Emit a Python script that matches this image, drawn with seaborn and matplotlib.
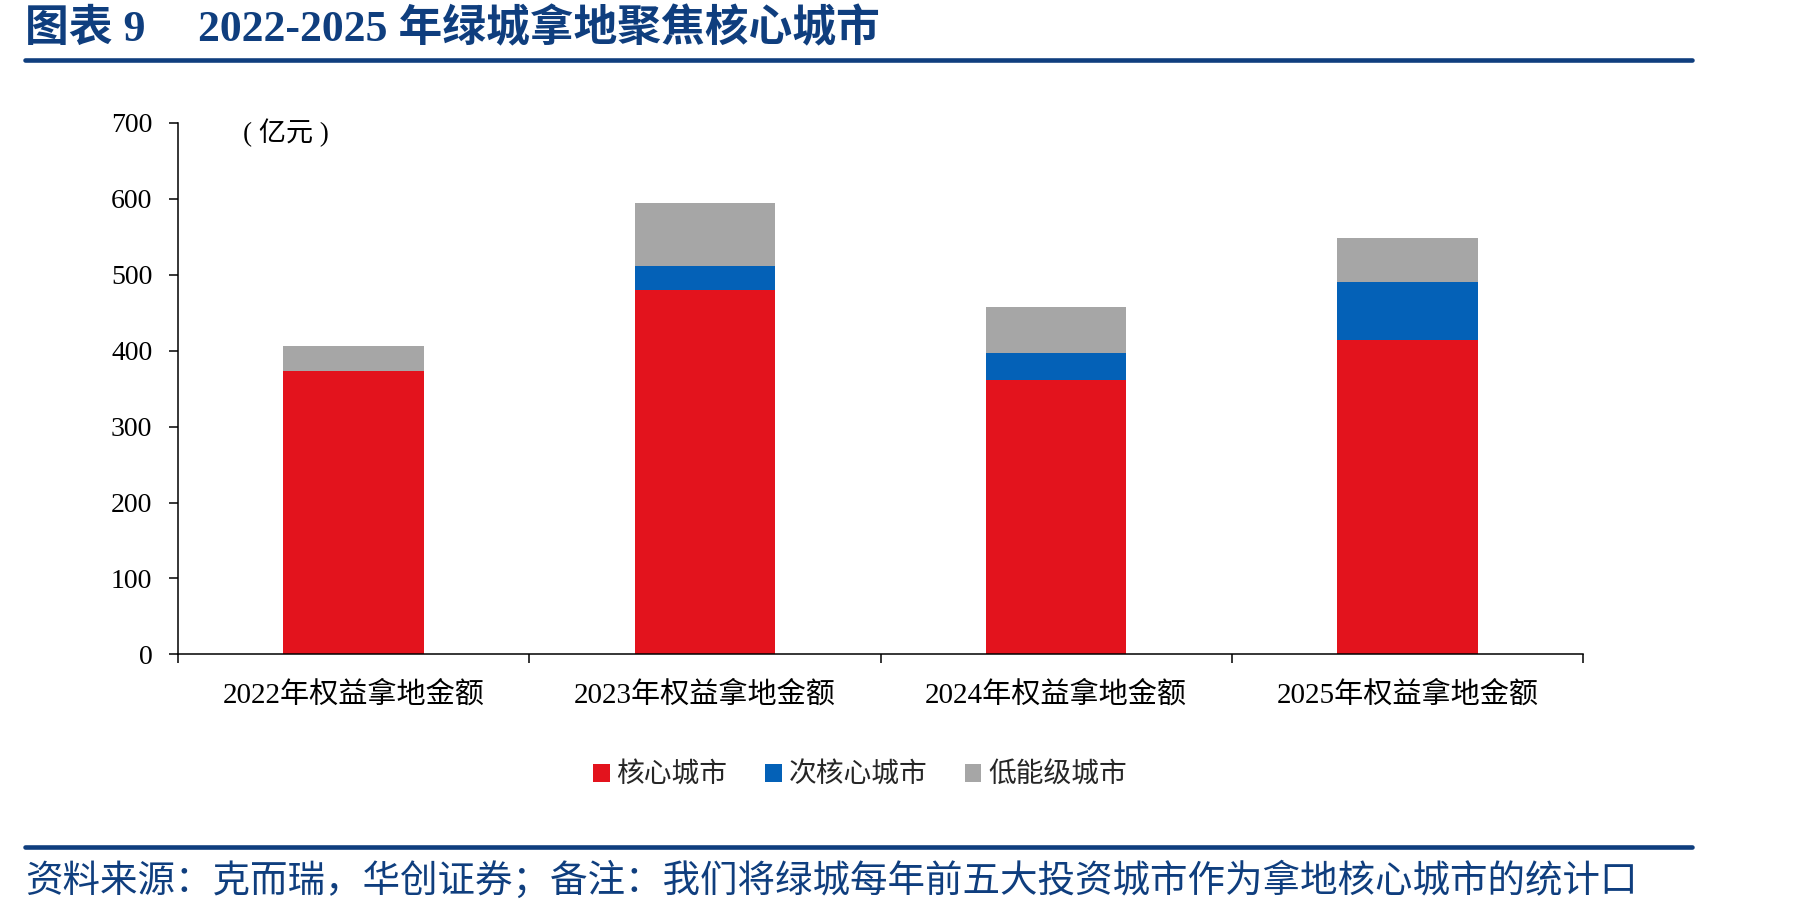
import numpy as np
import pandas as pd
import matplotlib
matplotlib.use("Agg")
import matplotlib.pyplot as plt
import seaborn as sns
from matplotlib.patches import Patch
from matplotlib.lines import Line2D

# ---------------------------------------------------------------------
# Datos (亿元)
# ---------------------------------------------------------------------
categories = ["2022年权益拿地金额", "2023年权益拿地金额", "2024年权益拿地金额", "2025年权益拿地金额"]
core = [373, 480, 362, 414]       # 核心城市
sub_core = [0, 32, 35, 76]        # 次核心城市
low_tier = [33, 83, 61, 59]       # 低能级城市
series_names = ["核心城市", "次核心城市", "低能级城市"]
y_ticks = [0, 100, 200, 300, 400, 500, 600, 700]

title_left = "图表 9"
title_right = "2022-2025 年绿城拿地聚焦核心城市"
unit_label = "( 亿元 )"
footer = "资料来源：克而瑞，华创证券；备注：我们将绿城每年前五大投资城市作为拿地核心城市的统计口"

RED = "#E3131D"
BLUE = "#0461B7"
GRAY = "#A6A6A6"
NAVY = "#0F3E7E"

sns.set_theme(style="white")
plt.rcParams["font.family"] = ["Liberation Serif", "Noto Sans CJK SC"]
plt.rcParams["axes.unicode_minus"] = False

W, H = 1801, 913

# apilado: se dibujan totales acumulados de mayor a menor
df = pd.DataFrame({"cat": categories, "core": core, "sub": sub_core, "low": low_tier})
df["lvl2"] = df["core"] + df["sub"]
df["lvl3"] = df["lvl2"] + df["low"]

fig = plt.figure(figsize=(W / 100, H / 100), dpi=100)
ax = fig.add_axes([178 / W, 1 - 654.4 / H, (1583 - 178) / W, (654.4 - 122.9) / H])

for col, color in [("lvl3", GRAY), ("lvl2", BLUE), ("core", RED)]:
    sns.barplot(data=df, x="cat", y=col, color=color, saturation=1,
                width=0.4, linewidth=0, ax=ax)

ax.set_xlim(-0.5, 3.5)
ax.set_ylim(0, 700)
ax.set_yticks(y_ticks)
ax.set_xlabel("")
ax.set_ylabel("")

for s in ["top", "right"]:
    ax.spines[s].set_visible(False)
for s in ["left", "bottom"]:
    ax.spines[s].set_color("black")
    ax.spines[s].set_linewidth(1.1)

ax.set_xticks(np.arange(-0.5, 4, 1), minor=True)
ax.tick_params(axis="x", which="major", length=0, pad=19.5, labelsize=21, labelcolor="black")
ax.tick_params(axis="x", which="minor", length=6.5, width=1.1, direction="out", color="black", bottom=True)
ax.tick_params(axis="y", length=6.5, width=1.1, direction="out", color="black", left=True,
               pad=12, labelsize=20, labelcolor="black")

fig.text(243 / W, 1 - 133 / H, unit_label, fontsize=19.5, va="center", ha="left", color="black")

# leyenda
handles = [Patch(facecolor=c, edgecolor="none") for c in (RED, BLUE, GRAY)]
fig.legend(handles, series_names, loc="center", bbox_to_anchor=(860 / W, 1 - 776 / H),
           ncol=3, frameon=False, fontsize=20, handlelength=0.6, handleheight=0.6,
           handletextpad=0.25, columnspacing=1.35)

# título y pie
fig.text(25 / W, 1 - 29 / H, title_left, fontsize=31.5, weight="bold", color=NAVY,
         va="center", ha="left")
fig.text(198 / W, 1 - 29 / H, title_right, fontsize=31.5, weight="bold", color=NAVY,
         va="center", ha="left")
fig.add_artist(Line2D([25 / W, 1692 / W], [1 - 60 / H] * 2, color=NAVY, lw=3.3))
fig.add_artist(Line2D([25 / W, 1692 / W], [1 - 847 / H] * 2, color=NAVY, lw=3.3))
fig.text(25 / W, 1 - 881 / H, footer, fontsize=27, color=NAVY, va="center", ha="left",
         family=["Noto Sans CJK SC"])

fig.savefig("out.png", dpi=100)
